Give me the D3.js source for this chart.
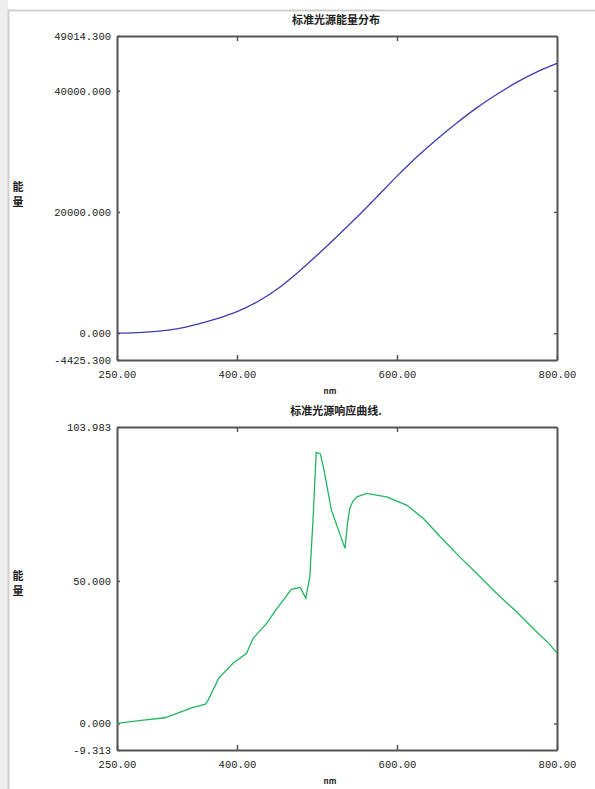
<!DOCTYPE html>
<html>
<head>
<meta charset="utf-8">
<script src="https://d3js.org/d3.v7.min.js"></script>
<style>
  body{
    margin:0;
    background-color:#fff;
  }
  svg text{
    fill:#222;
  }
  .tick text{
    font-family:"Liberation Mono", monospace;
    font-size:10.5px;
  }
  .ttl{
    font-family:"Noto Sans CJK SC", sans-serif;
    font-size:11px;
    font-weight:bold;
  }
</style>
</head>
<body>
<svg id="chart" width="595" height="789"></svg>
<script>
  // wavelength grid (nm) for the energy curve
  var energy_nm = [250,275,300,325,350,375,400,425,450,475,500,525,550,575,600,625,650,675,700,725,750,775,800]
  var energy_val = [0,100,300,700,1470,2400,3550,5150,7250,9900,12850,15950,19150,22500,25900,29100,32000,34700,37200,39400,41400,43100,44500]

  // response curve points
  var resp_nm = [250,283,310,325,345,360,364,377,395,412,420,437,450,468,479,486,491,495,499,504,508,518,535,538,541,545,550,562,587,612,633,654,680,700,725,750,775,790,800]
  var resp_val = [0,1.2,2,3.5,5.6,6.7,8.2,15.8,21.1,24.6,29.8,35.1,40.4,47,47.7,43.9,51.5,71.3,95,94.7,90,74.8,61.4,70,75.5,78,79.5,80.7,79.5,76.6,71.9,65.5,58,52.5,45.5,39,32,28,24.7]

  var x_ticks = [250,400,600,800]
  var energy_ticks = [-4425.3,0,20000,40000,49014.3]
  var resp_ticks = [-9.313,0,50,103.983]

  var svg = d3.select("#chart")

  // outer frame of the window
  svg.append("rect").attr("x",0).attr("y",0).attr("width",8).attr("height",789).attr("fill","#eeeeee")
  svg.append("rect").attr("x",8.5).attr("y",10.5).attr("width",600).attr("height",800)
    .attr("fill","#fff").attr("stroke","#cfcfcf").attr("stroke-width",2)

  function draw_panel(cfg){
    var xscale = d3.scaleLinear().domain([250,800]).range([117,557])
    var yscale = d3.scaleLinear().domain(cfg.ydomain).range([cfg.bottom,cfg.top])
    var g = svg.append("g")

    // left axis with labels
    g.append("g").attr("transform","translate(117,0)")
      .call(d3.axisLeft(yscale).tickValues(cfg.yticks).tickSizeInner(-3).tickSizeOuter(0).tickPadding(6)
        .tickFormat(function(d){ return d.toFixed(3); }))
    // right axis, ticks only
    g.append("g").attr("transform","translate(557,0)")
      .call(d3.axisRight(yscale).tickValues(cfg.yticks.slice(1,-1)).tickSizeInner(-3).tickSizeOuter(0).tickFormat(""))
    // bottom axis
    g.append("g").attr("transform","translate(0,"+cfg.bottom+")")
      .call(d3.axisBottom(xscale).tickValues(x_ticks).tickSizeInner(-5).tickSizeOuter(0).tickPadding(11)
        .tickFormat(function(d){ return d.toFixed(2); }))
    // top axis, ticks only
    g.append("g").attr("transform","translate(0,"+cfg.top+")")
      .call(d3.axisTop(xscale).tickValues([400,600]).tickSizeInner(-5).tickSizeOuter(0).tickFormat(""))

    g.selectAll(".domain").attr("stroke","#555").attr("stroke-width",2)
    g.selectAll(".tick line").attr("stroke","#555").attr("stroke-width",1.5)

    var line = d3.line()
      .curve(cfg.curve)
      .x(function(d){ return xscale(d[0]); })
      .y(function(d){ return yscale(d[1]); })
    g.append("path")
      .datum(cfg.nm.map(function(n,i){ return [n,cfg.vals[i]]; }))
      .attr("d",line)
      .attr("fill","none")
      .attr("stroke",cfg.color)
      .attr("stroke-width",1.3)

    g.append("text").attr("class","ttl").attr("x",336).attr("y",cfg.top-12)
      .attr("text-anchor","middle").text(cfg.title)
    g.append("text").attr("class","ttl").attr("x",330).attr("y",cfg.bottom+34)
      .attr("text-anchor","middle").style("font-size","8px").text("nm")
    g.append("text").attr("class","ttl").attr("x",18).attr("y",cfg.labely)
      .attr("text-anchor","middle").text("能")
    g.append("text").attr("class","ttl").attr("x",18).attr("y",cfg.labely+15)
      .attr("text-anchor","middle").text("量")
  }

  draw_panel({
    top:36, bottom:360, ydomain:[-4425.3,49014.3], yticks:energy_ticks,
    nm:energy_nm, vals:energy_val, color:"#3d3db0", curve:d3.curveMonotoneX,
    title:"标准光源能量分布", labely:191
  })
  draw_panel({
    top:427, bottom:750, ydomain:[-9.313,103.983], yticks:resp_ticks,
    nm:resp_nm, vals:resp_val, color:"#22b560", curve:d3.curveLinear,
    title:"标准光源响应曲线.", labely:580
  })
</script>
</body>
</html>
